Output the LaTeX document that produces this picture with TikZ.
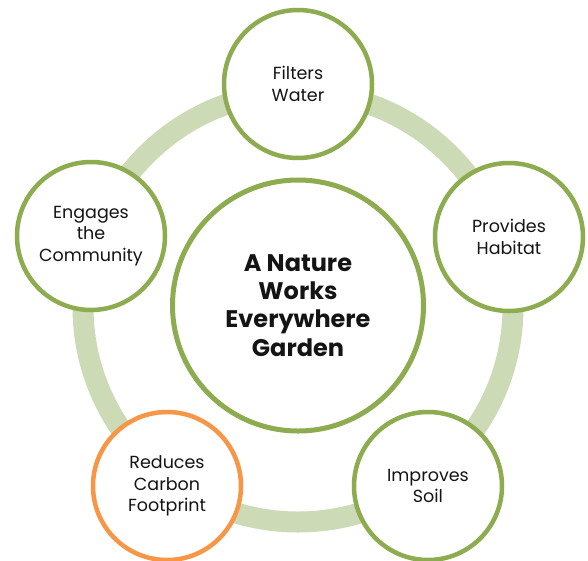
\documentclass[tikz,border=0pt]{standalone}
\usepackage{fontspec}
\setmainfont{Poppins}
\definecolor{ringgreen}{HTML}{CCDAB6}
\definecolor{leafgreen}{HTML}{8CAC4F}
\definecolor{carrot}{HTML}{F79646}
\definecolor{ink}{HTML}{141414}
\tikzset{
  ringpath/.style={draw=ringgreen, line width=21pt},
  benefit/.style={circle, draw=leafgreen, line width=4.5pt, fill=white,
    minimum size=148pt, inner sep=0pt, align=center, text=ink,
    font=\fontsize{17.5}{21.5}\selectfont},
  hub/.style={circle, draw=leafgreen, line width=5pt, fill=white,
    minimum size=251pt, inner sep=0pt, align=center, text=ink,
    font=\fontsize{24}{28.3}\selectfont\bfseries},
}
\begin{document}
\begin{tikzpicture}[x=1pt,y=-1pt]
\useasboundingbox[fill=white] (0,0) rectangle (588,560);
\coordinate (ringc) at (298,307);
\draw[ringpath] (ringc) circle (215);
\node[hub] (hubnode) at (298,305.5) {A Nature\\Works\\Everywhere\\Garden};
\node[benefit] (water) at (298,84) {Filters\\Water};
\node[benefit] (habitat) at (509,237) {Provides\\Habitat};
\node[benefit] (soil) at (428,486) {Improves\\Soil};
\node[benefit, draw=carrot] (carbon) at (167,486) {Reduces\\Carbon\\Footprint};
\node[benefit] (community) at (91,236) {Engages\\the\\Community};
\end{tikzpicture}
\end{document}
